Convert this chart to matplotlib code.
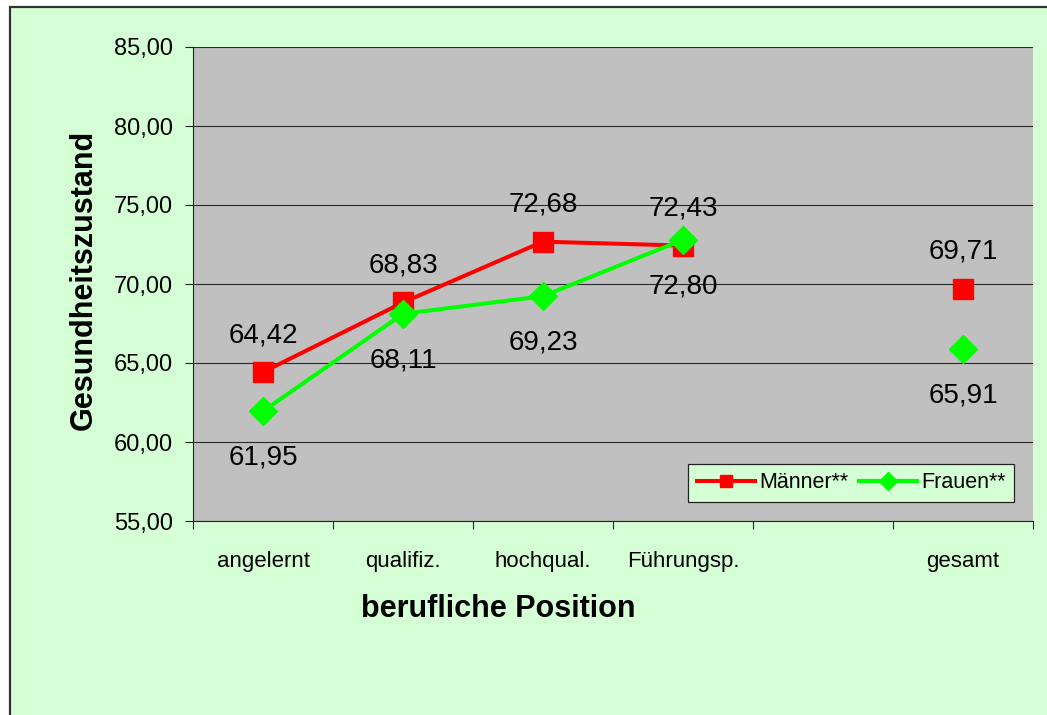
import numpy as np
import matplotlib
matplotlib.use("Agg")
import matplotlib.pyplot as plt
from matplotlib.ticker import FixedLocator, NullFormatter, FixedFormatter

categories = ["angelernt", "qualifiz.", "hochqual.", "Führungsp.", "", "gesamt"]
maenner = [64.42, 68.83, 72.68, 72.43, np.nan, 69.71]
frauen = [61.95, 68.11, 69.23, 72.80, np.nan, 65.91]
yticks = [55, 60, 65, 70, 75, 80, 85]

plt.rcParams['font.family'] = ['Liberation Sans', 'DejaVu Sans']

W, H = 1047, 715
fig = plt.figure(figsize=(W / 100, H / 100), dpi=100)
fig.patch.set_facecolor('white')

bg = '#D5FFD5'
# chart area background with border
rect = matplotlib.patches.Rectangle((10 / W, -0.1), 1.2, 1 - 7 / H + 0.1,
                                    transform=fig.transFigure, facecolor=bg,
                                    edgecolor='#333333', linewidth=1.6, zorder=-10)
fig.patches.append(rect)

L, R, T, B = 193, 1033, 47, 521
ax = fig.add_axes([L / W, 1 - B / H, (R - L) / W, (B - T) / H])
ax.set_zorder(1)
ax.set_facecolor('#C0C0C0')

x = np.arange(len(categories))
ax.plot(x, maenner, color='#FF0000', lw=2.9, marker='s', ms=14.5, mec='#FF0000',
        mfc='#FF0000', label='Männer**', zorder=3)
ax.plot(x, frauen, color='#00FF00', lw=2.9, marker='D', ms=14.5, mec='#00FF00',
        mfc='#00FF00', label='Frauen**', zorder=4)

def fmt(v):
    return f"{v:.2f}".replace('.', ',')

for xi, v in zip(x, maenner):
    if not np.isnan(v):
        ax.annotate(fmt(v), (xi, v), xytext=(0, 21.5), textcoords='offset points',
                    ha='center', va='baseline', fontsize=20, color='black', zorder=5)
for xi, v in zip(x, frauen):
    if not np.isnan(v):
        ax.annotate(fmt(v), (xi, v), xytext=(0, -38.5), textcoords='offset points',
                    ha='center', va='baseline', fontsize=20, color='black', zorder=5)

ax.set_xlim(-0.5, len(categories) - 0.5)
ax.set_ylim(55, 85)
ax.set_yticks(yticks)
ax.set_yticklabels([f"{t:.2f}".replace('.', ',') for t in yticks])
ax.yaxis.grid(True, color='#2a2a2a', lw=0.8)
ax.set_axisbelow(True)

ax.xaxis.set_major_locator(FixedLocator(np.arange(len(categories) + 1) - 0.5))
ax.xaxis.set_major_formatter(NullFormatter())
ax.xaxis.set_minor_locator(FixedLocator(x))
ax.xaxis.set_minor_formatter(FixedFormatter(categories))
ax.tick_params(axis='x', which='major', direction='out', length=6, width=0.8, color='#222222')
ax.tick_params(axis='x', which='minor', length=0, pad=21.5, labelsize=16)
ax.tick_params(axis='y', direction='out', length=6, width=0.8, color='#222222', pad=8.5,
               labelsize=17)

for s in ['top', 'right']:
    ax.spines[s].set_visible(False)
for s in ['left', 'bottom']:
    ax.spines[s].set_color('#222222')
    ax.spines[s].set_linewidth(0.8)

ax.set_xlabel('berufliche Position', fontsize=22, fontweight='bold')
ax.xaxis.set_label_coords((498 - L) / (R - L), (B - 617) / (B - T))
ax.xaxis.label.set_va('baseline')
ax.set_ylabel('Gesundheitszustand', fontsize=22, fontweight='bold')
ax.yaxis.set_label_coords((92 - L) / (R - L), (B - 280) / (B - T))
ax.yaxis.label.set_va('baseline')

leg = ax.legend(loc='lower right', bbox_to_anchor=(1014 / W, 1 - 502 / H),
                bbox_transform=fig.transFigure, ncol=2, fontsize=15.5, frameon=True,
                fancybox=False, borderaxespad=0, handlelength=2.7, handletextpad=0.19,
                columnspacing=0.5, borderpad=0.4, markerscale=0.6)
leg.get_frame().set_facecolor(bg)
leg.get_frame().set_edgecolor('#222222')
leg.get_frame().set_linewidth(0.9)
leg.get_frame().set_alpha(1)

fig.savefig('out.png', dpi=100, facecolor=fig.get_facecolor())
